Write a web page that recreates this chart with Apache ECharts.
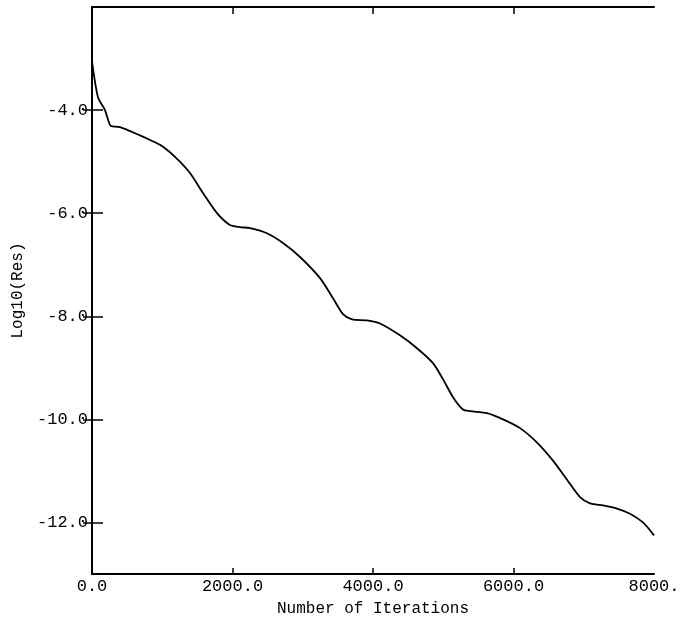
<!DOCTYPE html>
<html>
<head>
<meta charset="utf-8">
<script src="https://cdn.jsdelivr.net/npm/echarts@6/dist/echarts.min.js"></script>
<style>html,body{margin:0;padding:0;background:#fff}#c{width:692px;height:624px}</style>
</head>
<body>
<div id="c"></div>
<script>
var iterations = [0, 85, 185, 270, 400, 683, 826, 1000, 1200, 1395, 1580, 1779, 1964, 2107, 2249, 2491, 2719, 2961, 3246, 3431, 3573, 3701, 3915, 4100, 4384, 4626, 4854, 4996, 5139, 5281, 5381, 5623, 5851, 6093, 6335, 6562, 6762, 6947, 7089, 7274, 7473, 7658, 7843, 8000];
var logRes = [-3.05, -3.75, -4.0, -4.31, -4.33, -4.49, -4.58, -4.70, -4.93, -5.22, -5.61, -6.00, -6.23, -6.27, -6.29, -6.39, -6.58, -6.85, -7.26, -7.65, -7.96, -8.06, -8.08, -8.14, -8.37, -8.62, -8.91, -9.22, -9.57, -9.81, -9.84, -9.88, -10.00, -10.17, -10.45, -10.80, -11.17, -11.51, -11.63, -11.67, -11.73, -11.83, -12.00, -12.25];
var xTickLabels = [0, 2000, 4000, 6000, 8000];
var xTickMarks = [2000, 4000, 6000];
var yTickLabels = [-4, -6, -8, -10, -12];

var FONT = '"Liberation Mono", "DejaVu Sans Mono", monospace';
var data = iterations.map(function (v, i) { return [v, logRes[i]]; });
var axisLine = { show: true, lineStyle: { color: '#000', width: 2 } };

var chart = echarts.init(document.getElementById('c'), null, { renderer: 'canvas' });
chart.setOption({
  backgroundColor: '#fff',
  animation: false,
  grid: { left: 92, right: 38, top: 7, bottom: 50, containLabel: false },
  xAxis: [{
    type: 'value', min: 0, max: 8000, position: 'bottom',
    name: 'Number of Iterations', nameLocation: 'middle', nameGap: 27,
    nameTextStyle: { fontFamily: FONT, fontSize: 16, color: '#000' },
    axisLine: axisLine,
    splitLine: { show: false },
    axisTick: { show: true, inside: true, length: 6, customValues: xTickMarks, lineStyle: { color: '#000', width: 1.5 } },
    axisLabel: { show: true, customValues: xTickLabels, margin: 4, fontFamily: FONT, fontSize: 17, color: '#000',
      formatter: function (v) { return v === 8000 ? '8000.' : v.toFixed(1); } }
  }, {
    type: 'value', min: 0, max: 8000, position: 'top',
    axisLine: axisLine, splitLine: { show: false },
    axisTick: { show: true, inside: true, length: 7, customValues: xTickMarks, lineStyle: { color: '#000', width: 1.5 } },
    axisLabel: { show: false }
  }],
  yAxis: [{
    type: 'value', min: -13, max: -2, position: 'left',
    name: 'Log10(Res)', nameLocation: 'middle', nameGap: 66, nameRotate: 90,
    nameTextStyle: { fontFamily: FONT, fontSize: 16, color: '#000' },
    axisLine: axisLine, splitLine: { show: false },
    axisTick: { show: true, inside: true, length: 11, customValues: yTickLabels, lineStyle: { color: '#000', width: 1.5 } },
    axisLabel: { show: true, customValues: yTickLabels, margin: 4, fontFamily: FONT, fontSize: 17, color: '#000',
      formatter: function (v) { return v.toFixed(1); } }
  }, {
    type: 'value', min: -13, max: -2, position: 'right',
    axisLine: axisLine, splitLine: { show: false },
    axisTick: { show: true, inside: true, length: 9, customValues: yTickLabels, lineStyle: { color: '#000', width: 1.5 } },
    axisLabel: { show: false }
  }],
  series: [{
    type: 'line', xAxisIndex: 0, yAxisIndex: 0,
    data: data, showSymbol: false, smooth: 0.25,
    lineStyle: { color: '#000', width: 1.8 }
  }]
});
</script>
</body>
</html>
